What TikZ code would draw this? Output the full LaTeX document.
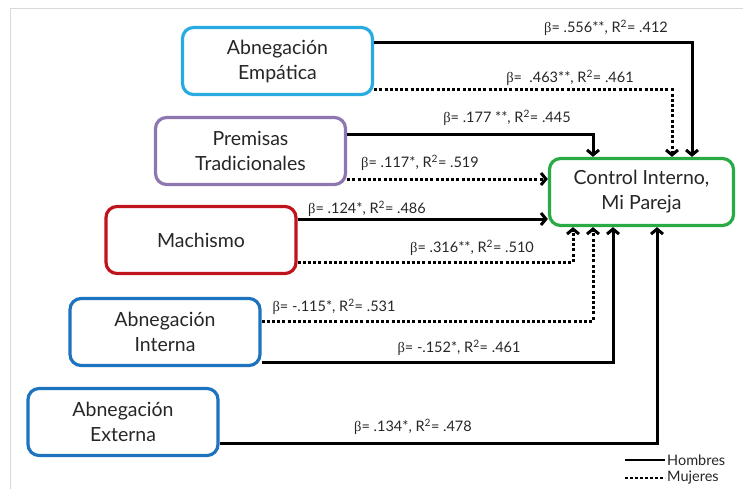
\documentclass[tikz,border=0pt]{standalone}
\usepackage{fontspec}
\setmainfont{Lato}
\newfontfamily\grk{Liberation Serif}
\newcommand{\bt}{{\grk β}}
\usetikzlibrary{arrows.meta}
\definecolor{cyanb}{RGB}{41,171,226}
\definecolor{purp}{RGB}{142,118,176}
\definecolor{redb}{RGB}{192,20,28}
\definecolor{blueb}{RGB}{30,115,190}
\definecolor{greenb}{RGB}{40,170,70}
\begin{document}
\begin{tikzpicture}[x=1pt,y=-1pt,
 box/.style={draw, line width=3.2pt, rounded corners=11pt, align=center,
   font=\fontsize{19.5}{25}\selectfont, text=black!85, inner sep=0pt, fill=white,
   minimum width=190pt, minimum height=67pt},
 men/.style={line width=3pt, -{Straight Barb[length=5pt,width=12pt]}},
 wom/.style={line width=3pt, dash pattern=on 3pt off 2.2pt, -{Straight Barb[length=5pt,width=12pt]}},
 lbl/.style={font=\fontsize{14.5}{16}\selectfont, text=black!85, inner sep=0pt}]
\useasboundingbox (0,0) rectangle (743,489);
\draw[black!15, line width=1pt] (10,489) -- (10,9) -- (743,9);

\node[box, draw=cyanb] (emp) at (277.5,61) {Abnegación\\Empática};
\node[box, draw=purp] (prem) at (250.5,151) {Premisas\\Tradicionales};
\node[box, draw=redb] (mach) at (201,240) {Machismo};
\node[box, draw=blueb] (intn) at (165,332) {Abnegación\\Interna};
\node[box, draw=blueb] (ext) at (123,422) {Abnegación\\Externa};
\node[box, draw=greenb, minimum width=184pt, minimum height=67pt] (ctrl) at (641.5,192) {Control Interno,\\Mi Pareja};

\draw[men] (emp.east |- 0,43) -| (ctrl.north -| 692,0);
\draw[wom] (emp.east |- 0,90) -| (ctrl.north -| 672,0);
\draw[men] (prem.east |- 0,135) -| (ctrl.north -| 593,0);
\draw[wom] (prem.east |- 0,179) -- (ctrl.west |- 0,179);
\draw[men] (mach.east |- 0,219) -- (ctrl.west |- 0,219);
\draw[wom] (mach.east |- 0,262) -| (ctrl.south -| 573,0);
\draw[wom] (intn.east |- 0,321) -| (ctrl.south -| 593,0);
\draw[men] (intn.east |- 0,362) -| (ctrl.south -| 613,0);
\draw[men] (ext.east |- 0,443) -| (ctrl.south -| 657,0);

\node[lbl] (l1) at (606,28) {\bt= .556**, R\textsuperscript{2}= .412};
\node[lbl] (l2) at (570,78) {\bt= \ .463**, R\textsuperscript{2}= .461};
\node[lbl] (l3) at (507,118) {\bt= .177 **, R\textsuperscript{2}= .445};
\node[lbl] (l4) at (420,163) {\bt= .117*, R\textsuperscript{2}= .519};
\node[lbl] (l5) at (367,209) {\bt= .124*, R\textsuperscript{2}= .486};
\node[lbl] (l6) at (472,248) {\bt= .316**, R\textsuperscript{2}= .510};
\node[lbl] (l7) at (334,307) {\bt= -.115*, R\textsuperscript{2}= .531};
\node[lbl] (l8) at (459,348) {\bt= -.152*, R\textsuperscript{2}= .461};
\node[lbl] (l9) at (413,427) {\bt= .134*, R\textsuperscript{2}= .478};

\coordinate (h1) at (625,460); \coordinate (h2) at (665,460);
\coordinate (m1) at (625,478); \coordinate (m2) at (665,478);
\draw[line width=2.8pt] (h1) -- (h2);
\draw[line width=2.8pt, dash pattern=on 2.8pt off 2.2pt] (m1) -- (m2);
\node[lbl, anchor=west] (hom) at (667,460) {Hombres};
\node[lbl, anchor=west] (muj) at (667,478) {Mujeres};
\end{tikzpicture}
\end{document}
